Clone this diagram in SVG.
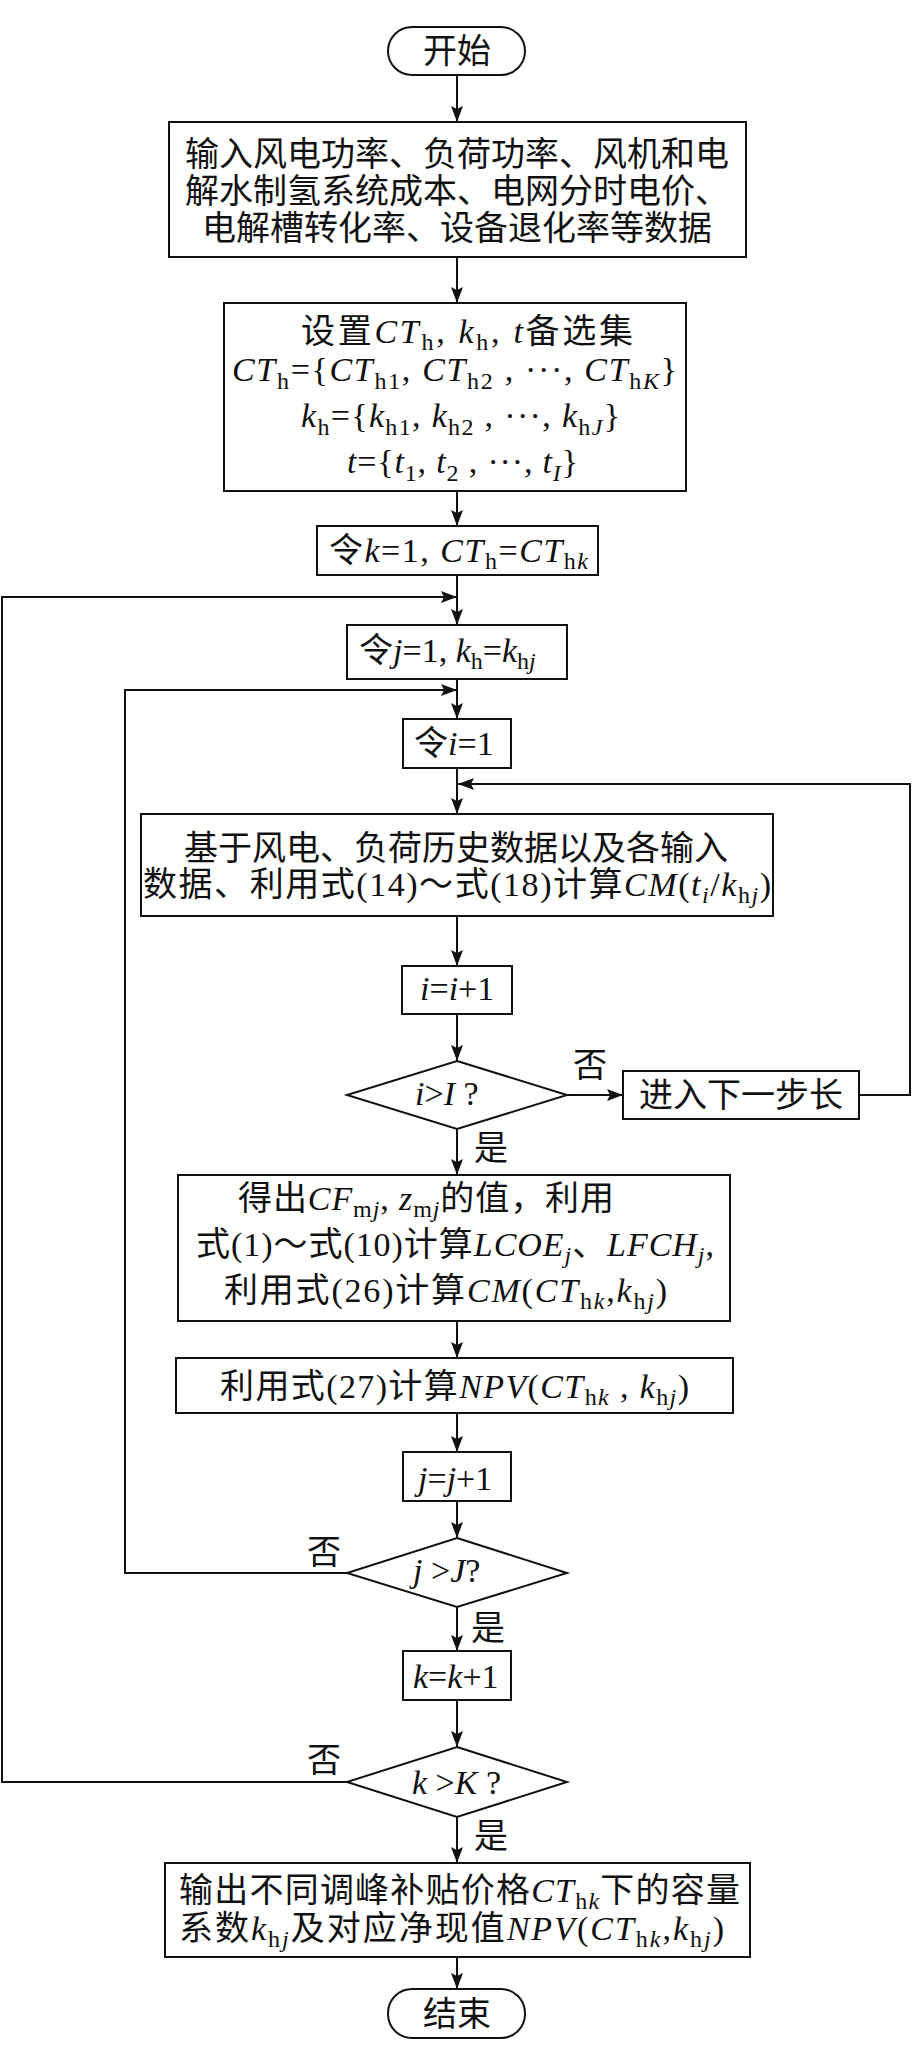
<svg xmlns="http://www.w3.org/2000/svg" width="912" height="2066" viewBox="0 0 912 2066">
<defs>
<marker id="ah" markerUnits="userSpaceOnUse" markerWidth="18" markerHeight="14" refX="16" refY="6" orient="auto">
<path d="M0,0 L16,6 L0,12 L3,6 z" fill="#111"/>
</marker>
<style>
.n { fill:#fff; stroke:#111; stroke-width:2; }
.c { fill:none; stroke:#111; stroke-width:2; }
.a { marker-end:url(#ah); }
text { font-family:"Liberation Serif","Noto Sans CJK SC",serif; font-size:34px; fill:#111; }
.m { text-anchor:middle; }
.i { font-style:italic; }
.s { font-size:24px; }
</style>
</defs>
<rect width="912" height="2066" fill="#fff"/>

<g id="connectors">
<line class="c a" x1="457" y1="75" x2="457" y2="122"/>
<line class="c a" x1="457" y1="257" x2="457" y2="303"/>
<line class="c a" x1="457" y1="491" x2="457" y2="526"/>
<line class="c a" x1="457" y1="575" x2="457" y2="625"/>
<line class="c a" x1="457" y1="679" x2="457" y2="719"/>
<line class="c a" x1="457" y1="768" x2="457" y2="814"/>
<line class="c a" x1="457" y1="916" x2="457" y2="966"/>
<line class="c a" x1="457" y1="1014" x2="457" y2="1061"/>
<line class="c a" x1="567" y1="1095" x2="623" y2="1095"/>
<line class="c a" x1="457" y1="1129" x2="457" y2="1175"/>
<line class="c a" x1="457" y1="1321" x2="457" y2="1358"/>
<line class="c a" x1="457" y1="1413" x2="457" y2="1452"/>
<line class="c a" x1="457" y1="1501" x2="457" y2="1538"/>
<line class="c a" x1="457" y1="1607" x2="457" y2="1651"/>
<line class="c a" x1="457" y1="1700" x2="457" y2="1747"/>
<line class="c a" x1="457" y1="1817" x2="457" y2="1863"/>
<line class="c a" x1="457" y1="1957" x2="457" y2="1989"/>
<polyline class="c a" points="347,1782 2,1782 2,597 457,597"/>
<polyline class="c a" points="347,1573 125,1573 125,690 457,690"/>
<polyline class="c a" points="859,1095 910,1095 910,784 458,784"/>
<text x="573" y="1077">否</text>
<text x="474" y="1160">是</text>
<text x="307" y="1564">否</text>
<text x="471" y="1640">是</text>
<text x="307" y="1772">否</text>
<text x="474" y="1848">是</text>
</g>

<g id="start">
<rect class="n" x="388" y="27" width="137" height="48" rx="24"/>
<text class="m" x="457" y="63">开始</text>
</g>

<g id="input">
<rect class="n" x="169" y="122" width="577" height="135"/>
<text class="m" x="457" y="166">输入风电功率、负荷功率、风机和电</text>
<text class="m" x="457" y="203">解水制氢系统成本、电网分时电价、</text>
<text class="m" x="457" y="240">电解槽转化率、设备退化率等数据</text>
</g>

<g id="set">
<rect class="n" x="224" y="303" width="462" height="188"/>
<text x="301" y="343" textLength="332" lengthAdjust="spacing">设置<tspan class="i">CT</tspan><tspan class="s" dy="7">h</tspan><tspan dy="-7">, </tspan><tspan class="i">k</tspan><tspan class="s" dy="7">h</tspan><tspan dy="-7">, </tspan><tspan class="i">t</tspan>备选集</text>
<text x="232" y="381" textLength="445" lengthAdjust="spacing"><tspan class="i">CT</tspan><tspan class="s" dy="8">h</tspan><tspan dy="-8">={</tspan><tspan class="i">CT</tspan><tspan class="s" dy="8">h1</tspan><tspan dy="-8">, </tspan><tspan class="i">CT</tspan><tspan class="s" dy="8">h2</tspan><tspan dy="-8"> , ···, </tspan><tspan class="i">CT</tspan><tspan class="s" dy="8">h<tspan class="i">K</tspan></tspan><tspan dy="-8">}</tspan></text>
<text x="301" y="427" textLength="319" lengthAdjust="spacing"><tspan class="i">k</tspan><tspan class="s" dy="8">h</tspan><tspan dy="-8">={</tspan><tspan class="i">k</tspan><tspan class="s" dy="8">h1</tspan><tspan dy="-8">, </tspan><tspan class="i">k</tspan><tspan class="s" dy="8">h2</tspan><tspan dy="-8"> , ···, </tspan><tspan class="i">k</tspan><tspan class="s" dy="8">h<tspan class="i">J</tspan></tspan><tspan dy="-8">}</tspan></text>
<text x="347" y="473" textLength="231" lengthAdjust="spacing"><tspan class="i">t</tspan>={<tspan class="i">t</tspan><tspan class="s" dy="8">1</tspan><tspan dy="-8">, </tspan><tspan class="i">t</tspan><tspan class="s" dy="8">2</tspan><tspan dy="-8"> , ···, </tspan><tspan class="i">t</tspan><tspan class="s i" dy="8">I</tspan><tspan dy="-8">}</tspan></text>
</g>

<g id="initk">
<rect class="n" x="317" y="526" width="281" height="49"/>
<text x="329" y="562" textLength="259" lengthAdjust="spacing">令<tspan class="i">k</tspan>=1, <tspan class="i">CT</tspan><tspan class="s" dy="7">h</tspan><tspan dy="-7">=</tspan><tspan class="i">CT</tspan><tspan class="s" dy="7">h<tspan class="i">k</tspan></tspan></text>
</g>

<g id="initj">
<rect class="n" x="347" y="625" width="220" height="54"/>
<text x="359" y="662">令<tspan class="i">j</tspan>=1, <tspan class="i">k</tspan><tspan class="s" dy="7">h</tspan><tspan dy="-7">=</tspan><tspan class="i">k</tspan><tspan class="s" dy="7">h<tspan class="i">j</tspan></tspan></text>
</g>

<g id="initi">
<rect class="n" x="403" y="719" width="108" height="49"/>
<text x="414" y="755">令<tspan class="i">i</tspan>=1</text>
</g>

<g id="calcCM">
<rect class="n" x="141" y="814" width="632" height="102"/>
<text class="m" x="456" y="860">基于风电、负荷历史数据以及各输入</text>
<text x="143" y="896" textLength="628" lengthAdjust="spacing">数据、利用式(14)～式(18)计算<tspan class="i">CM</tspan>(<tspan class="i">t</tspan><tspan class="s i" dy="7">i</tspan><tspan dy="-7">/</tspan><tspan class="i">k</tspan><tspan class="s" dy="7">h<tspan class="i">j</tspan></tspan><tspan dy="-7">)</tspan></text>
</g>

<g id="incI">
<rect class="n" x="402" y="966" width="110" height="48"/>
<text x="420" y="1000"><tspan class="i">i</tspan>=<tspan class="i">i</tspan>+1</text>
</g>

<g id="decI">
<polygon class="n" points="457,1061 567,1095 457,1129 347,1095"/>
<text x="415" y="1105"><tspan class="i">i</tspan>&gt;<tspan class="i">I</tspan> ?</text>
</g>

<g id="nextStep">
<rect class="n" x="623" y="1071" width="236" height="48"/>
<text class="m" x="741" y="1107">进入下一步长</text>
</g>

<g id="results">
<rect class="n" x="178" y="1175" width="552" height="146"/>
<text x="238" y="1210" textLength="376" lengthAdjust="spacing">得出<tspan class="i">CF</tspan><tspan class="s" dy="7">m<tspan class="i">j</tspan></tspan><tspan dy="-7">, </tspan><tspan class="i">z</tspan><tspan class="s" dy="7">m<tspan class="i">j</tspan></tspan><tspan dy="-7">的值，利用</tspan></text>
<text x="196" y="1256" textLength="518" lengthAdjust="spacing">式(1)～式(10)计算<tspan class="i">LCOE</tspan><tspan class="s i" dy="7">j</tspan><tspan dy="-7">、</tspan><tspan class="i">LFCH</tspan><tspan class="s i" dy="7">j</tspan><tspan dy="-7">,</tspan></text>
<text x="224" y="1302" textLength="443" lengthAdjust="spacing">利用式(26)计算<tspan class="i">CM</tspan>(<tspan class="i">CT</tspan><tspan class="s" dy="7">h<tspan class="i">k</tspan></tspan><tspan dy="-7">,</tspan><tspan class="i">k</tspan><tspan class="s" dy="7">h<tspan class="i">j</tspan></tspan><tspan dy="-7">)</tspan></text>
</g>

<g id="npv">
<rect class="n" x="176" y="1358" width="557" height="55"/>
<text x="220" y="1398" textLength="469" lengthAdjust="spacing">利用式(27)计算<tspan class="i">NPV</tspan>(<tspan class="i">CT</tspan><tspan class="s" dy="7">h<tspan class="i">k</tspan></tspan><tspan dy="-7"> , </tspan><tspan class="i">k</tspan><tspan class="s" dy="7">h<tspan class="i">j</tspan></tspan><tspan dy="-7">)</tspan></text>
</g>

<g id="incJ">
<rect class="n" x="403" y="1452" width="108" height="49"/>
<text x="418" y="1490"><tspan class="i">j</tspan>=<tspan class="i">j</tspan>+1</text>
</g>

<g id="decJ">
<polygon class="n" points="457,1538 567,1573 457,1607 347,1573"/>
<text x="413" y="1582"><tspan class="i">j</tspan> &gt;<tspan class="i">J</tspan>?</text>
</g>

<g id="incK">
<rect class="n" x="403" y="1651" width="108" height="49"/>
<text x="413" y="1688"><tspan class="i">k</tspan>=<tspan class="i">k</tspan>+1</text>
</g>

<g id="decK">
<polygon class="n" points="457,1747 567,1782 457,1817 347,1782"/>
<text x="412" y="1794"><tspan class="i">k</tspan> &gt;<tspan class="i">K</tspan> ?</text>
</g>

<g id="output">
<rect class="n" x="165" y="1863" width="585" height="94"/>
<text x="179" y="1902" textLength="561" lengthAdjust="spacing">输出不同调峰补贴价格<tspan class="i">CT</tspan><tspan class="s" dy="7">h<tspan class="i">k</tspan></tspan><tspan dy="-7">下的容量</tspan></text>
<text x="179" y="1940" textLength="545" lengthAdjust="spacing">系数<tspan class="i">k</tspan><tspan class="s" dy="7">h<tspan class="i">j</tspan></tspan><tspan dy="-7">及对应净现值</tspan><tspan class="i">NPV</tspan>(<tspan class="i">CT</tspan><tspan class="s" dy="7">h<tspan class="i">k</tspan></tspan><tspan dy="-7">,</tspan><tspan class="i">k</tspan><tspan class="s" dy="7">h<tspan class="i">j</tspan></tspan><tspan dy="-7">)</tspan></text>
</g>

<g id="end">
<rect class="n" x="388" y="1989" width="137" height="49" rx="24"/>
<text class="m" x="457" y="2026">结束</text>
</g>
</svg>
